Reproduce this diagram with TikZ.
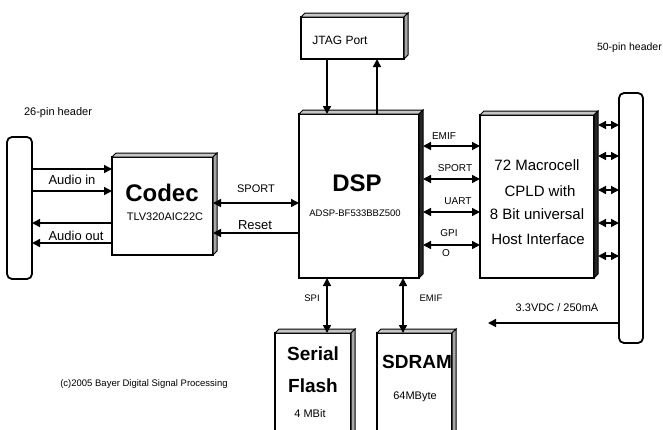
\documentclass[tikz,border=0pt]{standalone}
\usepackage{fontspec}
\setmainfont{Liberation Sans}
\usetikzlibrary{arrows.meta}
\newcommand\mkshadow[3]{%
  \filldraw[fill=#2, line width=1pt, line join=miter] (#1.north west) -- ++(4,-4) -- ([shift={(4,-4)}]#1.north east) -- (#1.north east) -- cycle;
  \filldraw[fill=#3, line width=1pt, line join=miter] (#1.north east) -- ([shift={(4,-4)}]#1.north east) -- ([shift={(4,-4)}]#1.south east) -- (#1.south east) -- cycle;}
\newcommand\fs[1]{\fontsize{#1}{#1}\selectfont}
\begin{document}
\begin{tikzpicture}[x=1pt,y=-1pt,
  box/.style={draw, line width=1.6pt, fill=white, inner sep=0pt, outer sep=0pt, anchor=north west},
  hdr/.style={draw, line width=1.8pt, fill=white, inner sep=0pt, outer sep=0pt, anchor=north west, rounded corners=5pt},
  con/.style={line width=1.5pt},
  ar/.style={con, -{Triangle[length=8pt,width=8pt]}},
  dar/.style={con, {Triangle[length=8pt,width=8pt]}-{Triangle[length=8pt,width=8pt]}},
  lbl/.style={inner sep=0pt, font=\fs{11}},
  big/.style={inner sep=0pt, font=\bfseries\fs{24}},
  mid/.style={inner sep=0pt, font=\bfseries\fs{19}},
  cp/.style={inner sep=0pt, font=\fs{15}}
]
\clip (0,0) rectangle (663,429);
\fill[white] (0,0) rectangle (663,429);

% boxes
\node[box, minimum width=101pt, minimum height=98pt] (codec) at (112,157) {};
\mkshadow{codec}{gray!45}{gray!70}
\node[box, minimum width=120pt, minimum height=164pt] (dsp) at (299,114) {};
\mkshadow{dsp}{gray!45}{black!85}
\node[box, minimum width=103pt, minimum height=42pt] (jtag) at (301,17) {};
\mkshadow{jtag}{gray!45}{gray!70}
\node[box, minimum width=114pt, minimum height=163pt] (cpld) at (480,115) {};
\mkshadow{cpld}{gray!45}{black!85}
\node[box, minimum width=76pt, minimum height=120pt] (flash) at (275,333) {};
\mkshadow{flash}{gray!45}{gray!70}
\node[box, minimum width=75pt, minimum height=120pt] (sdram) at (377,333) {};
\mkshadow{sdram}{gray!45}{gray!70}
\node[hdr, minimum width=25pt, minimum height=142pt] (hdrL) at (7,137) {};
\node[hdr, minimum width=24pt, minimum height=250pt] (hdrR) at (619,93) {};

% texts in boxes
\node[big] at (162,193) {Codec};
\node[lbl] at (165,217) {TLV320AIC22C};
\node[big] at (357,183) {DSP};
\node[inner sep=0pt, font=\fs{9.5}] at (355,213) {ADSP-BF533BBZ500};
\node[inner sep=0pt, font=\fs{12}] at (340,40) {JTAG Port};
\node[cp] at (537,165) {72 Macrocell};
\node[cp] at (540,191) {CPLD with};
\node[cp] at (537,214) {8 Bit universal};
\node[cp] at (538,239) {Host Interface};
\node[mid] at (313,354) {Serial};
\node[mid] at (313,386) {Flash};
\node[lbl] at (310,414) {4 MBit};
\node[mid] at (417,362) {SDRAM};
\node[lbl] at (415,397) {64MByte};

% connectors left
\draw[ar] (hdrL.east |- 0,169) -- (codec.west |- 0,169);
\draw[ar] (hdrL.east |- 0,191) -- (codec.west |- 0,191);
\draw[ar] (codec.west |- 0,223) -- (hdrL.east |- 0,223);
\draw[ar] (codec.west |- 0,243) -- (hdrL.east |- 0,243);
\node[inner sep=0pt, font=\fs{13}] at (72,180) {Audio in};
\node[inner sep=0pt, font=\fs{13}] at (76,236) {Audio out};

\draw[dar] (codec.east |- 0,203) -- (dsp.west |- 0,203);
\draw[ar] (dsp.west |- 0,233) -- (codec.east |- 0,233);
\node[lbl] at (256,189) {SPORT};
\node[inner sep=0pt, font=\fs{13}] at (255,225) {Reset};

% JTAG
\draw[ar] (jtag.south -| 327,0) -- (dsp.north -| 327,0);
\draw[ar] (dsp.north -| 377,0) -- (jtag.south -| 377,0);

% DSP - CPLD
\coordinate (dspR) at ([xshift=4pt]dsp.east);
\draw[dar] (dspR |- 0,146) -- (cpld.west |- 0,146);
\draw[dar] (dspR |- 0,179) -- (cpld.west |- 0,179);
\draw[dar] (dspR |- 0,212) -- (cpld.west |- 0,212);
\draw[dar] (dspR |- 0,245) -- (cpld.west |- 0,245);
\node[inner sep=0pt, font=\fs{10}] at (444,136) {EMIF};
\node[inner sep=0pt, font=\fs{10}] at (455,168) {SPORT};
\node[inner sep=0pt, font=\fs{10}] at (458,201) {UART};
\node[inner sep=0pt, font=\fs{10}] at (449,233) {GPI};
\node[inner sep=0pt, font=\fs{10}] at (446,253) {O};

% CPLD - header
\coordinate (cpldR) at ([xshift=4pt]cpld.east);
\foreach \yy in {125,156,190,223,256}
  \draw[dar] (cpldR |- 0,\yy) -- (hdrR.west |- 0,\yy);

% power
\coordinate (pwr) at (488,323);
\draw[ar] (hdrR.west |- pwr) -- (pwr);
\node[lbl] at (557,308) {3.3VDC / 250mA};

% bottom
\draw[dar] (dsp.south -| 327,0) -- (flash.north -| 327,0);
\draw[dar] (dsp.south -| 403,0) -- (sdram.north -| 403,0);
\node[inner sep=0pt, font=\fs{9.5}] at (312,298) {SPI};
\node[inner sep=0pt, font=\fs{9.5}] at (431,298) {EMIF};

% headers labels
\node[inner sep=0pt, font=\fs{11}] at (58,113) {26-pin header};
\node[inner sep=0pt, font=\fs{10.5}, anchor=east] at (662,48) {50-pin header};
\node[inner sep=0pt, font=\fs{9.5}] at (144,384) {(c)2005 Bayer Digital Signal Processing};
\end{tikzpicture}
\end{document}
